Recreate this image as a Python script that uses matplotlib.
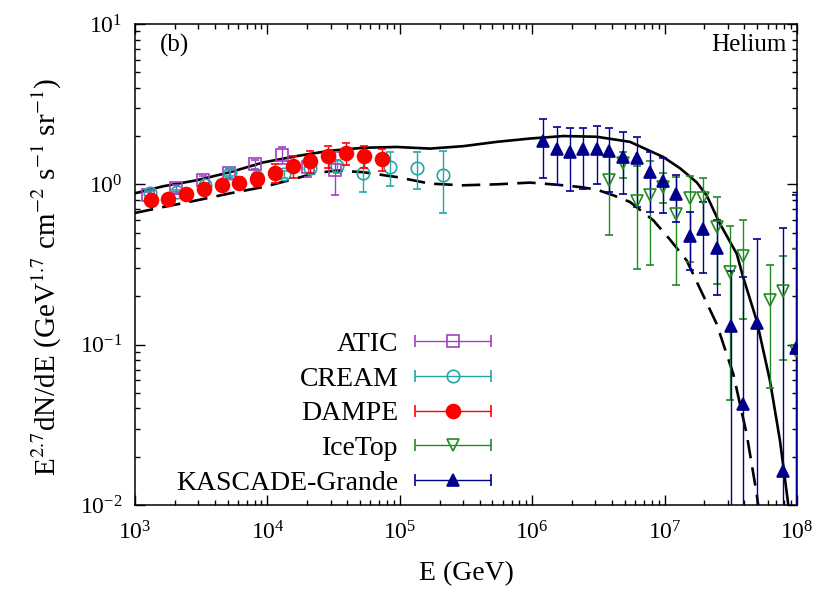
import numpy as np
import matplotlib
matplotlib.use("Agg")
import matplotlib.pyplot as plt
from matplotlib.container import ErrorbarContainer
from matplotlib.legend_handler import HandlerErrorbar

plt.rcParams['font.family'] = ['Liberation Serif', 'DejaVu Serif']
plt.rcParams['mathtext.fontset'] = 'stix'

# ---------------- data (log10 E [GeV], E^2.7 dN/dE) ----------------
atic_logE = [3.10, 3.31, 3.51, 3.71, 3.91, 4.11, 4.31, 4.51]
atic_y    = [0.853, 0.944, 1.06, 1.17, 1.33, 1.52, 1.28, 1.22]
atic_err  = [0.04, 0.05, 0.06, 0.07, 0.09, 0.18, 0.17, 0.36]

cream_logE = [3.113, 3.317, 3.529, 3.718, 3.92, 4.125, 4.32, 4.526, 4.72, 4.926, 5.13, 5.326]
cream_y    = [0.88, 0.895, 0.986, 1.17, 1.11, 1.155, 1.26, 1.30, 1.17, 1.28, 1.26, 1.14]
cream_err  = [0.03, 0.03, 0.04, 0.05, 0.05, 0.06, 0.08, 0.12, 0.27, 0.30, 0.33, 0.48]

dampe_logE = [3.119, 3.251, 3.385, 3.521, 3.655, 3.788, 3.924, 4.057, 4.191, 4.322,
              4.46, 4.594, 4.732, 4.866]
dampe_y    = [0.794, 0.814, 0.866, 0.94, 0.986, 1.025, 1.075, 1.18, 1.30, 1.40,
              1.50, 1.56, 1.50, 1.43]
dampe_err  = [0.05, 0.05, 0.06, 0.07, 0.08, 0.09, 0.10, 0.16, 0.20, 0.22,
              0.24, 0.24, 0.24, 0.22]

icetop_logE = [6.582, 6.688, 6.789, 6.89, 6.99, 7.09, 7.19, 7.292, 7.393, 7.494,
               7.595, 7.796, 7.897, 7.992]
icetop_y    = [1.06, 1.36, 0.791, 0.859, 0.968, 0.651, 0.824, 0.824, 0.544, 0.283,
               0.355, 0.191, 0.216, 0.0917]
icetop_hi   = [1.5, 1.6, 1.30, 1.39, 1.17, 1.11, 1.13, 1.10, 0.833, 0.546,
               0.60, 0.315, 0.355, 0.396]
icetop_lo   = [0.48, 1.1, 0.297, 0.315, 0.77, 0.236, 0.33, 0.5, 0.24, 0.045,
               0.145, 0.054, 0.08, 0.001]

kg_logE = [6.084, 6.185, 6.285, 6.386, 6.487, 6.582, 6.688, 6.789, 6.89, 6.99,
           7.09, 7.19, 7.29, 7.394, 7.50, 7.594, 7.696, 7.894, 7.992]
kg_y    = [1.87, 1.67, 1.59, 1.65, 1.67, 1.61, 1.48, 1.45, 1.19, 1.05,
           0.873, 0.477, 0.529, 0.401, 0.130, 0.0426, 0.136, 0.0163, 0.0955]
kg_hi   = [2.55, 2.28, 2.23, 2.26, 2.30, 2.23, 2.12, 1.96, 1.59, 1.45,
           1.14, 0.671, 0.78, 0.60, 0.29, 0.264, 0.453, 0.537, 0.854]
kg_lo   = [1.094, 0.996, 0.904, 0.94, 1.0, 0.891, 0.866, 0.718, 0.671, 0.662,
           0.581, 0.293, 0.28, 0.204, 0.001, 0.001, 0.001, 0.001, 0.001]

solid_logE = [3.0, 3.211, 3.466, 3.718, 3.969, 4.221, 4.473, 4.724, 4.977, 5.228,
              5.48, 5.732, 5.983, 6.235, 6.487, 6.739, 6.99, 7.116, 7.242, 7.318,
              7.418, 7.545, 7.594, 7.696, 7.796, 7.872, 7.934, 7.95]
solid_y    = [0.879, 0.972, 1.06, 1.19, 1.37, 1.50, 1.62, 1.69, 1.71, 1.67,
              1.73, 1.84, 1.93, 2.00, 1.98, 1.84, 1.48, 1.26, 1.03, 0.853,
              0.568, 0.369, 0.263, 0.141, 0.0596, 0.0251, 0.0101, 0.0085]

dashed_logE = [3.0, 3.214, 3.466, 3.718, 3.969, 4.221, 4.347, 4.523, 4.724, 4.977,
               5.228, 5.477, 5.732, 5.983, 6.185, 6.361, 6.487, 6.613, 6.739, 6.915,
               7.04, 7.167, 7.267, 7.393, 7.519, 7.62, 7.696, 7.713]
dashed_y    = [0.663, 0.722, 0.794, 0.879, 0.962, 1.09, 1.17, 1.22, 1.19, 1.11,
               1.01, 0.986, 1.0, 1.025, 0.995, 0.962, 0.927, 0.854, 0.776, 0.596,
               0.453, 0.335, 0.224, 0.135, 0.0656, 0.0277, 0.0117, 0.0091]

labels = ['ATIC', 'CREAM', 'DAMPE', 'IceTop', 'KASCADE-Grande']
colors = ['#a040c0', '#20a8a8', '#ff0000', '#228b22', '#00008b']

# ---------------- figure ----------------
fig = plt.figure(figsize=(8.34, 5.98), dpi=100)
ax = fig.add_axes([0.1619, 0.1555, 0.7937, 0.8044])
ax.set_xscale('log')
ax.set_yscale('log')

ax.plot(10**np.array(solid_logE), solid_y, color='black', lw=1.9, zorder=2)
ax.plot(10**np.array(dashed_logE), dashed_y, color='black', lw=1.9,
        linestyle=(0, (7, 3.5)), zorder=2)

def ebar(logE, y, lo, hi, fmt, color, filled, ms, z):
    y = np.array(y)
    ax.errorbar(10**np.array(logE), y, yerr=[y - np.array(lo), np.array(hi) - y],
                fmt=fmt, ms=ms, mec=color, mfc=color if filled else 'none',
                mew=1.2, ecolor=color, elinewidth=1.0, capsize=3, capthick=1.0,
                zorder=z)

ebar(atic_logE, atic_y, np.array(atic_y) - atic_err, np.array(atic_y) + atic_err,
     's', colors[0], False, 9, 3)
ebar(cream_logE, cream_y, np.array(cream_y) - cream_err, np.array(cream_y) + cream_err,
     'o', colors[1], False, 9, 3)
ebar(dampe_logE, dampe_y, np.array(dampe_y) - dampe_err, np.array(dampe_y) + dampe_err,
     'o', colors[2], True, 10, 5)
ebar(icetop_logE, icetop_y, icetop_lo, icetop_hi, 'v', colors[3], False, 9, 4)
ebar(kg_logE, kg_y, kg_lo, kg_hi, '^', colors[4], True, 9, 4)

# legend proxies with horizontal error bars (not visible in the axes)
handles = []
for lab, col, fmt, filled, ms in zip(labels, colors, ['s', 'o', 'o', 'v', '^'],
                                     [False, False, True, False, True], [9, 9, 10, 9, 9]):
    h = ax.errorbar([np.nan], [np.nan], xerr=[1.0], fmt=fmt, ms=ms, mec=col,
                    mfc=col if filled else 'none', mew=1.2, ecolor=col,
                    elinewidth=1.0, capsize=4, capthick=1.0, label=lab)
    handles.append(h)
ax.legend(handles=handles, loc='center', bbox_to_anchor=(0.300, 0.190),
          frameon=False, markerfirst=False, fontsize=20, numpoints=1,
          handlelength=2.75, handletextpad=0.6, labelspacing=0.33,
          handler_map={ErrorbarContainer: HandlerErrorbar(xerr_size=1.38)})

ax.set_xlim(1e3, 1e8)
ax.set_ylim(1e-2, 1e1)
ax.tick_params(which='both', direction='in', top=True, right=True, labelsize=17)
ax.tick_params(which='major', length=7, width=1.0)
ax.tick_params(axis='x', which='major', pad=12)
ax.tick_params(axis='y', which='major', pad=9)
ax.tick_params(which='minor', length=3.5, width=1.0)
for s in ax.spines.values():
    s.set_linewidth(1.1)

ax.set_xlabel('E (GeV)', fontsize=20, labelpad=12)
ax.set_ylabel(r'E$^{2.7}$dN/dE (GeV$^{1.7}$ cm$^{-2}$ s$^{-1}$ sr$^{-1}$)',
              fontsize=21)
ax.yaxis.set_label_coords(-0.108, 0.475)

ax.text(0.038, 0.956, '(b)', transform=ax.transAxes, fontsize=18,
        ha='left', va='center')
ax.text(0.985, 0.956, 'Helium', transform=ax.transAxes, fontsize=18,
        ha='right', va='center')

fig.savefig('out.png', dpi=100)
